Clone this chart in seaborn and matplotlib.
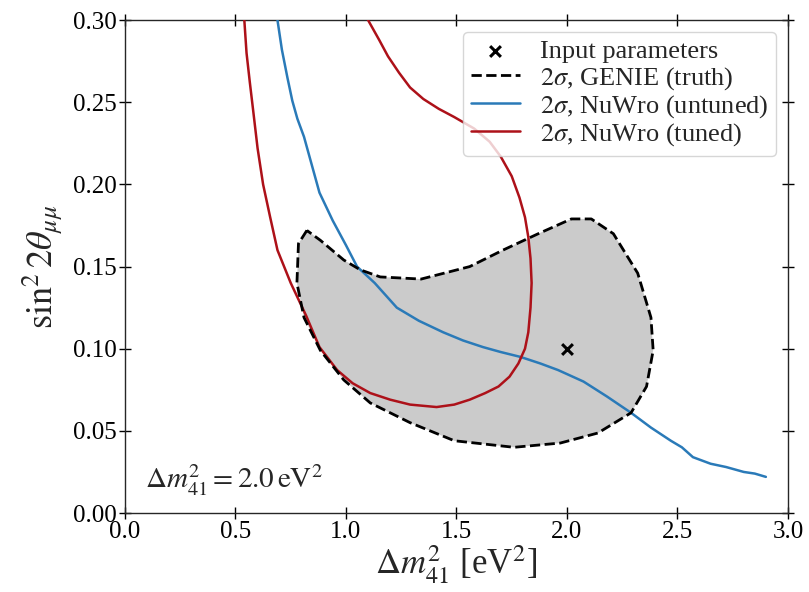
import numpy as np
import pandas as pd
import matplotlib
matplotlib.use("Agg")
import matplotlib.pyplot as plt
import seaborn as sns

# ---- data ----
genie_x = [0.823, 0.785, 0.778, 0.81, 0.884, 0.99, 1.11, 1.29, 1.49, 1.76, 1.97, 2.14,
           2.29, 2.36, 2.39, 2.38, 2.32, 2.21, 2.11, 2.02, 1.87, 1.71, 1.56, 1.34,
           1.155, 1.065, 0.99, 0.884, 0.823]
genie_y = [0.172, 0.164, 0.140, 0.119, 0.099, 0.081, 0.067, 0.055, 0.044, 0.040, 0.0426, 0.0487,
           0.061, 0.077, 0.099, 0.119, 0.146, 0.170, 0.179, 0.179, 0.170, 0.160, 0.150, 0.1424,
           0.1437, 0.148, 0.154, 0.166, 0.172]

untuned_x = [0.69, 0.71, 0.735, 0.757, 0.78, 0.81, 0.845, 0.88, 0.94, 1.0, 1.05, 1.13, 1.23,
             1.33, 1.44, 1.53, 1.62, 1.70, 1.79, 1.88, 1.96, 2.075, 2.18, 2.29, 2.38, 2.47,
             2.52, 2.57, 2.61, 2.65, 2.72, 2.80, 2.85, 2.9]
untuned_y = [0.30, 0.282, 0.265, 0.251, 0.24, 0.229, 0.212, 0.195, 0.178, 0.163, 0.150, 0.14,
             0.125, 0.117, 0.110, 0.105, 0.101, 0.098, 0.095, 0.091, 0.087, 0.080, 0.071,
             0.061, 0.052, 0.044, 0.040, 0.034, 0.032, 0.030, 0.028, 0.025, 0.024, 0.022]

tuned_x = [0.54, 0.55, 0.565, 0.58, 0.60, 0.625, 0.657, 0.69, 0.75, 0.82, 0.88, 0.96, 1.03, 1.11,
           1.20, 1.29, 1.41, 1.49, 1.56, 1.63, 1.69, 1.74, 1.78, 1.81, 1.825, 1.835, 1.84,
           1.835, 1.825, 1.81, 1.785, 1.75, 1.70, 1.65, 1.58, 1.49, 1.42, 1.35, 1.29, 1.24,
           1.19, 1.15, 1.10]
tuned_y = [0.30, 0.28, 0.262, 0.245, 0.222, 0.20, 0.18, 0.16, 0.14, 0.12, 0.101, 0.087, 0.079,
           0.073, 0.069, 0.066, 0.0645, 0.066, 0.069, 0.073, 0.077, 0.083, 0.091, 0.10, 0.11,
           0.125, 0.14, 0.155, 0.168, 0.18, 0.192, 0.205, 0.217, 0.226, 0.234, 0.241, 0.246,
           0.252, 0.259, 0.268, 0.278, 0.288, 0.30]

input_x = [2.0]
input_y = [0.10]

x_ticks = [0.0, 0.5, 1.0, 1.5, 2.0, 2.5, 3.0]
y_ticks = [0.00, 0.05, 0.10, 0.15, 0.20, 0.25, 0.30]

# ---- style ----
sns.set_theme(style="ticks")
plt.rcParams["font.family"] = ["Liberation Serif", "DejaVu Serif"]
plt.rcParams["mathtext.fontset"] = "stix"
plt.rcParams["axes.linewidth"] = 1.0

BLUE = "#2a7ab8"
RED = "#ad1119"

fig = plt.figure(figsize=(8.09, 5.92), dpi=100)
ax = fig.add_axes([0.1545, 0.1334, 0.974 - 0.1545, 0.966 - 0.1334])

df_g = pd.DataFrame({"x": genie_x, "y": genie_y})
df_u = pd.DataFrame({"x": untuned_x, "y": untuned_y})
df_t = pd.DataFrame({"x": tuned_x, "y": tuned_y})

ax.fill(df_g["x"], df_g["y"], color="#cbcbcb", zorder=1, lw=0)

sns.scatterplot(x=input_x, y=input_y, marker="x", color="black", s=60, linewidth=2.2,
                ax=ax, zorder=5, label="Input parameters")
sns.lineplot(data=df_g, x="x", y="y", sort=False, estimator=None, color="black",
             linestyle="--", linewidth=2, ax=ax, zorder=4, label=r"$2\sigma$, GENIE (truth)")
sns.lineplot(data=df_u, x="x", y="y", sort=False, estimator=None, color=BLUE,
             linewidth=1.8, ax=ax, zorder=3, label=r"$2\sigma$, NuWro (untuned)")
sns.lineplot(data=df_t, x="x", y="y", sort=False, estimator=None, color=RED,
             linewidth=1.8, ax=ax, zorder=3, label=r"$2\sigma$, NuWro (tuned)")

ax.set_xlim(0, 3.0)
ax.set_ylim(0, 0.30)
ax.set_xticks(x_ticks)
ax.set_yticks(y_ticks)
ax.set_xticklabels([f"{v:.1f}" for v in x_ticks])
ax.set_yticklabels([f"{v:.2f}" for v in y_ticks])
ax.tick_params(direction="inout", top=True, right=True, length=8, width=1,
               labelsize=18, colors="black", pad=2)

ax.set_xlabel(r"$\Delta m^2_{41}$ [eV$^2$]", fontsize=25, labelpad=0)
ax.set_ylabel(r"$\sin^2 2\theta_{\mu\mu}$", fontsize=26, labelpad=6)

ax.text(0.09, 0.015, r"$\Delta m^2_{41} = 2.0\,\mathrm{eV}^2$", fontsize=21)

leg = ax.legend(loc="upper right", fontsize=19, frameon=True, fancybox=True,
                handlelength=1.85, borderaxespad=0.45, labelspacing=0.05,
                handletextpad=0.75, borderpad=0.3)
leg.get_frame().set_edgecolor("#cccccc")

fig.savefig("out.png", dpi=100)
